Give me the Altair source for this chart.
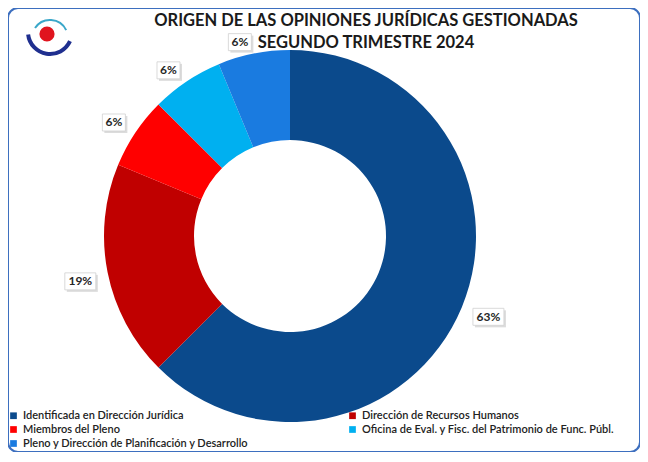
import altair as alt
import pandas as pd

categories = [
    "Identificada en Dirección Jurídica",
    "Dirección de Recursos Humanos",
    "Miembros del Pleno",
    "Oficina de Eval. y Fisc. del Patrimonio de Func. Públ.",
    "Pleno y Dirección de Planificación y Desarrollo",
]
values = [10, 3, 1, 1, 1]
percent_labels = ["63%", "19%", "6%", "6%", "6%"]
colors = ["#0b4a8c", "#c00000", "#ff0000", "#00b0f0", "#1a7be0"]
title_lines = ["ORIGEN DE LAS OPINIONES JURÍDICAS GESTIONADAS", "SEGUNDO TRIMESTRE 2024"]

df = pd.DataFrame({
    "cat": categories,
    "value": values,
    "label": percent_labels,
    "ord": list(range(len(categories))),
})

CX, CY = 282, 228
R_OUT, R_IN = 186, 96
R_LAB_X = R_OUT + 12
R_LAB_Y = R_OUT + 3
BOX_H = 17

base = alt.Chart(df)

arcs = base.mark_arc(outerRadius=R_OUT, innerRadius=R_IN).encode(
    theta=alt.Theta("value:Q", stack=True),
    order=alt.Order("ord:Q"),
    color=alt.Color(
        "cat:N",
        scale=alt.Scale(domain=categories, range=colors),
        legend=alt.Legend(
            title=None,
            orient="none",
            legendX=0,
            legendY=402,
            direction="horizontal",
            columns=2,
            columnPadding=98,
            rowPadding=2,
            symbolType="square",
            symbolSize=45,
            symbolStrokeWidth=0,
            labelFont="Lato",
            labelFontSize=11,
            labelFontWeight=600,
            labelColor="#222222",
            labelLimit=400,
            labelOffset=4,
        ),
    ),
    x=alt.value(CX),
    y=alt.value(CY),
)

lab = base.transform_window(
    cum="sum(value)", sort=[alt.SortField("ord")], frame=[None, 0]
).transform_joinaggregate(
    total="sum(value)"
).transform_calculate(
    mid="(datum.cum - datum.value/2) / datum.total * 2 * PI"
).transform_calculate(
    ax=f"{CX} + {R_LAB_X} * sin(datum.mid)",
    ay=f"{CY} - {R_LAB_Y} * cos(datum.mid)",
    sx="sin(datum.mid) >= 0 ? 1 : -1",
    sy="cos(datum.mid) <= 0 ? 1 : -1",
    w="7 + 8 * length(datum.label)",
).transform_calculate(
    bx1="datum.ax",
    bx2="datum.ax + datum.sx * datum.w",
    by1="datum.ay",
    by2=f"datum.ay + datum.sy * {BOX_H}",
).transform_calculate(
    tx="(datum.bx1 + datum.bx2) / 2",
    ty="(datum.by1 + datum.by2) / 2",
    sbx1="min(datum.bx1, datum.bx2) + 2",
    sbx2="max(datum.bx1, datum.bx2) + 2",
    sby1="min(datum.by1, datum.by2) + 2",
    sby2="max(datum.by1, datum.by2) + 2",
)

shadow = lab.mark_rect(color="#9a9a9a", opacity=0.35).encode(
    x=alt.X("sbx1:Q", scale=None), x2="sbx2:Q",
    y=alt.Y("sby1:Q", scale=None), y2="sby2:Q",
)
box = lab.mark_rect(fill="white", stroke="#d0d0d0", strokeWidth=0.8).encode(
    x=alt.X("bx1:Q", scale=None), x2="bx2:Q",
    y=alt.Y("by1:Q", scale=None), y2="by2:Q",
)
txt = lab.mark_text(font="Lato", fontSize=12, fontWeight="bold", color="#262626").encode(
    x=alt.X("tx:Q", scale=None),
    y=alt.Y("ty:Q", scale=None),
    text="label:N",
)

one = alt.Chart(pd.DataFrame({"k": [0]}))
title = one.mark_text(
    font="Lato", fontSize=16.5, fontWeight="bold", color="#1a1a1a",
    lineHeight=22, baseline="top", align="center",
).encode(x=alt.value(358), y=alt.value(5), text=alt.value(title_lines))

logo_ring = one.mark_arc(color="#1f2f8f", outerRadius=24, innerRadius=20).encode(
    theta=alt.value(2.0), theta2=alt.value(4.6), x=alt.value(42), y=alt.value(24)
)
logo_ring2 = one.mark_arc(color="#3aa7c9", outerRadius=19, innerRadius=17).encode(
    theta=alt.value(5.3), theta2=alt.value(7.4), x=alt.value(42), y=alt.value(30)
)
logo_dot = one.mark_point(filled=True, color="#e0141e", opacity=1, size=230).encode(
    x=alt.value(39), y=alt.value(26)
)

chart = alt.layer(
    logo_ring, logo_ring2, logo_dot, title, arcs, shadow, box, txt
).properties(
    width=632, height=444, padding=0, autosize="none"
).configure_view(
    stroke="#3d6fbf", strokeWidth=2, cornerRadius=10, fill="white"
)

chart.save("out.html", embed_options={"renderer": "svg", "actions": False})
